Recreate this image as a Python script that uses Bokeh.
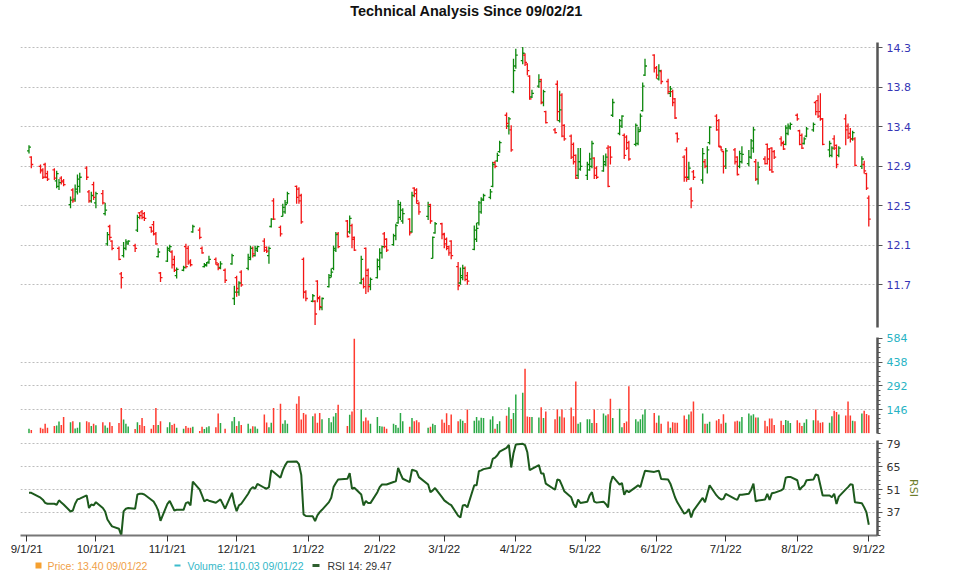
import numpy as np
import pandas as pd
from bokeh.plotting import figure
from bokeh.layouts import column
from bokeh.models import Range1d, FixedTicker, ColumnDataSource, CustomJSTickFormatter
from bokeh.core.properties import value
from bokeh.embed import file_html
from bokeh.resources import INLINE

title_text = "Technical Analysis Since 09/02/21"

first_day = "2021-09-02"
last_day = "2022-09-01"
holidays = ["2021-09-06", "2021-11-25", "2021-12-24", "2022-01-17", "2022-02-21",
            "2022-04-15", "2022-05-30", "2022-06-20", "2022-07-04"]

month_ticks = ["2021-09-01", "2021-10-01", "2021-11-01", "2021-12-01", "2022-01-01",
               "2022-02-01", "2022-03-01", "2022-04-01", "2022-05-01", "2022-06-01",
               "2022-07-01", "2022-08-01", "2022-09-01"]
month_labels = ["9/1/21", "10/1/21", "11/1/21", "12/1/21", "1/1/22", "2/1/22", "3/1/22",
                "4/1/22", "5/1/22", "6/1/22", "7/1/22", "8/1/22", "9/1/22"]

price_ticks = [11.7, 12.1333, 12.5667, 13.0, 13.4333, 13.8667, 14.3]
price_labels = ["11.7", "12.1", "12.5", "12.9", "13.4", "13.8", "14.3"]
volume_ticks = [146, 292, 438, 584]
volume_labels = ["146", "292", "438", "584"]
rsi_ticks = [37, 51, 65, 79]
rsi_labels = ["37", "51", "65", "79"]

legend_texts = ["Price: 13.40  09/01/22", "Volume: 110.03  09/01/22", "RSI 14: 29.47"]

opens = [
    # Sep 2021
    13.17, 13.10, 13.00, 12.96, 13.02, 12.92, 12.96, 12.84, 12.78, 12.87, 12.84, 12.58, 12.74, 12.64, 12.72, 12.78, 12.98, 12.72, 12.62, 12.80,
    # Oct
    12.60, 12.70, 12.48, 12.15, 12.34, 12.18, 12.10, 11.82, 12.02, 12.10, 12.15, 12.13, 12.30, 12.49, 12.50, 12.48, 12.33, 12.36, 12.26, 12.01, 11.83,
    # Nov
    11.96, 12.08, 12.06, 11.98, 11.80, 11.86, 12.12, 12.10, 11.96, 12.28, 12.30, 12.10, 11.90, 11.91, 11.95, 11.98, 11.92, 11.89, 11.86, 11.93, 11.55,
    # Dec
    11.78, 11.62, 11.84, 11.88, 11.98, 12.10, 12.02, 12.08, 12.18, 12.11, 12.02, 12.34, 12.62, 12.33, 12.45, 12.50, 12.60, 12.78, 12.75, 12.68, 11.98, 11.62,
    # Jan 2022
    11.52, 11.52, 11.74, 11.56, 11.45, 11.68, 11.80, 11.88, 12.08, 12.26, 12.40, 12.28, 12.35, 12.22, 11.72, 11.76, 12.10, 11.86, 11.70, 11.78,
    # Feb
    11.90, 12.05, 12.26, 12.20, 12.14, 12.24, 12.38, 12.44, 12.40, 12.42, 12.28, 12.76, 12.74, 12.59, 12.45, 12.58, 11.99, 12.27, 12.37,
    # Mar
    12.26, 12.20, 12.12, 12.18, 11.90, 11.72, 11.78, 11.88, 11.80, 12.09, 12.20, 12.38, 12.50, 12.63, 12.66, 12.78, 13.04, 13.06, 13.16, 13.56, 13.44, 13.40, 13.82,
    # Apr
    14.10, 14.16, 14.22, 14.12, 13.99, 13.76, 13.88, 13.95, 13.70, 13.60, 13.40, 13.90, 13.50, 13.78, 13.45, 13.33, 13.24, 13.12, 12.90, 12.97,
    # May
    12.90, 12.96, 13.00, 13.09, 12.98, 12.95, 13.02, 13.20, 13.21, 13.56, 13.36, 13.44, 13.34, 13.32, 13.26, 13.24, 13.25, 13.40, 13.61, 14.00, 14.22,
    # Jun
    14.08, 13.96, 14.04, 13.93, 13.80, 13.82, 13.74, 13.36, 13.10, 13.18, 12.88, 12.75, 12.94, 12.85, 13.05, 13.00, 13.26, 13.55, 13.50, 13.21, 13.16,
    # Jul
    13.00, 13.18, 13.10, 13.00, 13.05, 13.03, 13.10, 13.20, 13.05, 12.86, 13.08, 13.24, 13.19, 13.20, 13.16, 13.30, 13.26, 13.24, 13.36, 13.42,
    # Aug
    13.56, 13.39, 13.34, 13.25, 13.33, 13.40, 13.70, 13.72, 13.60, 13.52, 13.18, 13.12, 13.30, 13.23, 13.12, 13.52, 13.44, 13.36, 13.30, 13.30, 13.00, 13.02, 12.92,
    # Sep 2022
    12.65,
]

highs = [
    13.23, 13.11, 13.02, 12.98, 13.04, 12.95, 12.98, 12.95, 12.86, 12.89, 12.86, 12.67, 12.76, 12.80, 12.91, 12.93, 13.00, 12.74, 12.72, 12.83,
    12.72, 12.74, 12.60, 12.28, 12.36, 12.19, 12.12, 11.84, 12.17, 12.20, 12.19, 12.15, 12.47, 12.50, 12.52, 12.50, 12.34, 12.40, 12.28, 12.10, 11.84,
    12.12, 12.14, 12.08, 12.02, 11.89, 11.91, 12.15, 12.13, 11.98, 12.36, 12.33, 12.12, 11.94, 11.95, 12.02, 12.00, 11.94, 11.96, 11.88, 12.04, 11.69,
    11.80, 11.74, 11.86, 12.04, 12.13, 12.12, 12.13, 12.13, 12.21, 12.12, 12.12, 12.43, 12.65, 12.35, 12.59, 12.63, 12.72, 12.79, 12.77, 12.70, 12.00, 11.64,
    11.60, 11.53, 11.75, 11.58, 11.56, 11.82, 11.88, 12.13, 12.28, 12.28, 12.41, 12.46, 12.37, 12.23, 12.02, 11.78, 12.11, 11.88, 11.78, 11.99,
    12.10, 12.13, 12.28, 12.21, 12.26, 12.37, 12.63, 12.61, 12.54, 12.43, 12.72, 12.77, 12.76, 12.61, 12.61, 12.59, 12.23, 12.39, 12.38,
    12.27, 12.22, 12.13, 12.19, 11.95, 11.89, 11.92, 11.90, 11.84, 12.35, 12.38, 12.62, 12.66, 12.70, 12.75, 13.05, 13.06, 13.15, 13.28, 13.59, 13.54, 13.45, 14.18,
    14.29, 14.31, 14.24, 14.13, 14.00, 13.84, 14.01, 13.96, 13.84, 13.61, 13.42, 13.94, 13.83, 13.80, 13.46, 13.35, 13.26, 13.13, 13.20, 13.20,
    13.05, 13.15, 13.28, 13.10, 13.00, 13.12, 13.14, 13.23, 13.22, 13.74, 13.52, 13.56, 13.36, 13.34, 13.28, 13.47, 13.43, 13.58, 13.92, 14.18, 14.23,
    14.10, 14.12, 14.06, 13.96, 13.88, 13.84, 13.75, 13.37, 13.12, 13.21, 13.05, 12.77, 12.96, 13.20, 13.08, 13.22, 13.44, 13.57, 13.52, 13.22, 13.17,
    13.20, 13.20, 13.11, 13.17, 13.22, 13.18, 13.30, 13.43, 13.08, 13.05, 13.11, 13.25, 13.20, 13.21, 13.18, 13.33, 13.28, 13.45, 13.47, 13.48,
    13.58, 13.40, 13.36, 13.32, 13.43, 13.48, 13.72, 13.78, 13.80, 13.53, 13.28, 13.22, 13.34, 13.24, 13.22, 13.57, 13.47, 13.42, 13.39, 13.32, 13.11, 13.06, 12.93,
    12.68,
]

lows = [
    13.14, 12.98, 12.92, 12.86, 12.87, 12.84, 12.85, 12.76, 12.74, 12.80, 12.78, 12.54, 12.60, 12.61, 12.69, 12.71, 12.85, 12.60, 12.60, 12.63,
    12.54, 12.58, 12.46, 12.13, 12.19, 12.08, 11.97, 11.66, 12.00, 12.08, 12.14, 12.06, 12.28, 12.42, 12.42, 12.40, 12.27, 12.24, 12.14, 12.00, 11.73,
    11.95, 12.06, 11.88, 11.84, 11.77, 11.85, 11.88, 11.92, 11.90, 12.27, 12.20, 12.04, 11.89, 11.90, 11.93, 11.92, 11.86, 11.87, 11.72, 11.92, 11.48,
    11.57, 11.58, 11.68, 11.86, 11.97, 12.00, 12.01, 12.06, 12.06, 12.05, 11.93, 12.33, 12.41, 12.23, 12.45, 12.48, 12.59, 12.59, 12.59, 12.37, 11.55, 11.52,
    11.51, 11.26, 11.51, 11.42, 11.42, 11.67, 11.78, 11.86, 12.06, 12.10, 12.22, 12.26, 12.10, 12.07, 11.71, 11.66, 11.60, 11.62, 11.64, 11.77,
    11.86, 11.99, 12.10, 12.06, 12.13, 12.19, 12.37, 12.41, 12.37, 12.24, 12.27, 12.66, 12.59, 12.47, 12.41, 12.37, 11.99, 12.26, 12.20,
    12.10, 12.08, 12.02, 11.98, 11.64, 11.70, 11.75, 11.74, 11.70, 12.08, 12.17, 12.35, 12.48, 12.62, 12.64, 12.77, 12.98, 13.05, 13.15, 13.41, 13.35, 13.16, 13.80,
    14.07, 14.12, 14.10, 14.00, 13.73, 13.75, 13.86, 13.68, 13.66, 13.47, 13.36, 13.50, 13.48, 13.32, 13.28, 13.08, 13.02, 12.86, 12.86, 12.95,
    12.85, 12.95, 12.98, 12.86, 12.86, 12.94, 13.00, 12.77, 13.02, 13.54, 13.34, 13.42, 13.08, 13.18, 13.06, 13.22, 13.23, 13.38, 13.60, 13.99, 14.03,
    13.96, 13.94, 13.90, 13.79, 13.76, 13.66, 13.52, 13.26, 12.83, 12.83, 12.85, 12.54, 12.85, 12.81, 12.98, 12.92, 13.24, 13.39, 13.21, 13.17, 12.92,
    12.97, 13.02, 12.90, 12.98, 13.03, 13.00, 13.08, 13.15, 12.84, 12.80, 13.02, 13.02, 12.95, 12.93, 13.08, 13.22, 13.18, 13.23, 13.34, 13.40,
    13.50, 13.23, 13.19, 13.24, 13.32, 13.38, 13.56, 13.53, 13.50, 13.23, 13.10, 13.10, 13.18, 12.98, 13.10, 13.23, 13.30, 13.26, 13.28, 13.00, 12.97, 12.92, 12.74,
    12.34,
]

closes = [
    13.21, 13.02, 12.95, 12.88, 12.88, 12.86, 12.87, 12.92, 12.82, 12.83, 12.80, 12.63, 12.62, 12.75, 12.86, 12.88, 12.88, 12.62, 12.68, 12.66,
    12.70, 12.60, 12.52, 12.25, 12.22, 12.10, 11.98, 11.78, 12.10, 12.17, 12.18, 12.10, 12.44, 12.46, 12.44, 12.43, 12.29, 12.26, 12.15, 12.06, 11.78,
    12.10, 12.12, 11.92, 11.86, 11.87, 11.89, 11.90, 11.94, 11.92, 12.34, 12.22, 12.05, 11.92, 11.94, 11.98, 11.94, 11.88, 11.93, 11.75, 12.02, 11.62,
    11.66, 11.72, 11.70, 12.00, 12.10, 12.04, 12.10, 12.12, 12.08, 12.07, 12.10, 12.42, 12.42, 12.26, 12.55, 12.58, 12.70, 12.66, 12.62, 12.39, 11.62, 11.55,
    11.58, 11.38, 11.55, 11.46, 11.55, 11.78, 11.84, 12.10, 12.25, 12.12, 12.23, 12.43, 12.20, 12.08, 11.98, 11.68, 11.80, 11.68, 11.76, 11.97,
    12.05, 12.12, 12.12, 12.08, 12.24, 12.35, 12.58, 12.52, 12.48, 12.27, 12.68, 12.70, 12.62, 12.50, 12.56, 12.40, 12.22, 12.37, 12.25,
    12.15, 12.10, 12.05, 12.02, 11.69, 11.80, 11.88, 11.76, 11.74, 12.30, 12.32, 12.60, 12.64, 12.68, 12.72, 13.02, 13.00, 13.12, 13.26, 13.47, 13.52, 13.18, 14.05,
    14.22, 14.24, 14.14, 14.05, 13.74, 13.80, 13.93, 13.70, 13.82, 13.48, 13.37, 13.60, 13.62, 13.33, 13.30, 13.10, 13.05, 12.87, 13.05, 13.00,
    13.02, 13.08, 13.25, 12.90, 12.88, 13.05, 13.10, 12.78, 13.10, 13.70, 13.50, 13.55, 13.12, 13.20, 13.08, 13.45, 13.38, 13.55, 13.88, 14.10, 14.08,
    14.00, 14.05, 13.93, 13.82, 13.85, 13.70, 13.53, 13.30, 12.88, 12.86, 12.98, 12.62, 12.88, 13.14, 13.00, 13.18, 13.43, 13.40, 13.22, 13.18, 13.00,
    13.17, 13.05, 12.91, 13.14, 13.13, 13.10, 13.28, 13.40, 12.86, 12.99, 13.03, 13.08, 12.96, 12.94, 13.10, 13.25, 13.19, 13.42, 13.44, 13.46,
    13.52, 13.24, 13.20, 13.30, 13.41, 13.46, 13.60, 13.55, 13.52, 13.24, 13.25, 13.20, 13.20, 13.02, 13.20, 13.40, 13.32, 13.30, 13.37, 13.01, 13.08, 12.95, 12.76,
    12.42,
]

volumes = [
    27, 20, 33, 27, 58, 33, 45, 47, 72, 51, 99, 68, 74, 29, 33, 68, 74, 68, 45, 58,
    49, 68, 47, 33, 68, 45, 62, 156, 84, 58, 41, 25, 68, 51, 93, 45, 27, 51, 156, 51, 74,
    37, 68, 51, 58, 33, 27, 45, 33, 33, 39, 14, 39, 25, 37, 43, 37, 121, 62, 27, 74, 99,
    45, 74, 51, 58, 27, 43, 41, 27, 115, 66, 37, 64, 156, 181, 58, 80, 58, 181, 228, 84, 125, 115,
    105, 121, 64, 125, 86, 93, 68, 103, 125, 175, 45, 113, 134, 582, 146, 74, 97, 78, 58, 99,
    45, 41, 39, 27, 58, 51, 33, 125, 74, 39, 93, 74, 80, 68, 33, 39, 58, 51, 84,
    64, 123, 51, 115, 74, 86, 76, 62, 146, 76, 99, 78, 95, 93, 84, 105, 27, 56, 74, 107, 160, 88, 125,
    238, 249, 397, 103, 99, 99, 97, 160, 93, 134, 86, 146, 103, 146, 97, 158, 105, 319, 58, 68,
    86, 86, 62, 146, 62, 121, 109, 117, 212, 93, 150, 37, 62, 72, 290, 86, 72, 86, 115, 146, 125,
    64, 109, 58, 72, 33, 68, 64, 64, 109, 86, 115, 134, 195, 121, 58, 58, 70, 78, 88, 58, 117,
    64, 72, 76, 72, 99, 121, 109, 117, 97, 97, 76, 43, 90, 90, 51, 76, 51, 82, 76, 62,
    80, 64, 45, 64, 86, 80, 146, 78, 64, 68, 64, 105, 138, 130, 115, 109, 195, 109, 76, 74, 121, 138, 119,
    110.03,
]

rsi14 = [
    49.0, 49.0, 46.0, 44.8, 42.9, 42.3, 42.3, 41.7, 44.4, 43.1, 41.9, 37.6, 38.2, 42.3, 45.0, 45.4, 47.4, 39.7, 41.9, 41.3,
    43.3, 39.7, 37.6, 32.7, 30.5, 28.5, 27.0, 23.0, 37.6, 39.3, 39.7, 39.3, 48.0, 48.4, 48.4, 48.0, 44.8, 43.7, 41.3, 38.2, 31.9,
    42.3, 44.0, 41.1, 38.2, 38.6, 38.6, 42.7, 43.3, 41.3, 55.8, 50.9, 47.4, 43.7, 44.8, 44.2, 42.9, 44.0, 45.0, 39.3, 49.0, 42.3,
    37.8, 41.3, 42.3, 48.4, 51.1, 52.5, 51.5, 54.5, 52.1, 51.5, 52.5, 62.7, 61.7, 58.2, 62.7, 65.8, 68.0, 68.2, 66.5, 60.0, 35.8, 34.8,
    34.6, 31.7, 35.2, 37.2, 38.6, 43.3, 46.0, 52.5, 55.0, 57.2, 57.6, 61.1, 51.5, 52.1, 48.0, 41.3, 44.0, 42.7, 42.7, 49.4,
    52.5, 54.1, 54.1, 54.1, 55.6, 56.0, 64.3, 60.7, 57.6, 55.6, 63.1, 62.7, 62.1, 58.6, 54.1, 49.4, 50.5, 51.9, 46.4,
    44.4, 43.3, 42.3, 41.5, 35.0, 33.9, 41.2, 41.6, 40.1, 53.6, 53.6, 62.2, 62.7, 63.5, 64.3, 69.7, 70.5, 72.0, 74.2, 76.5, 78.3, 64.5, 73.2,
    78.6, 79.0, 78.2, 73.8, 62.9, 63.7, 66.0, 60.8, 60.8, 54.6, 50.9, 57.1, 56.7, 53.6, 50.0, 46.3, 42.2, 40.1, 44.9, 42.8,
    43.6, 47.4, 49.4, 43.6, 43.0, 43.6, 42.2, 40.1, 54.6, 59.1, 54.0, 55.0, 47.8, 50.5, 49.4, 52.5, 53.6, 52.5, 57.7, 62.5, 61.8,
    62.2, 62.5, 57.5, 57.1, 54.6, 50.5, 46.3, 43.2, 36.2, 37.0, 39.1, 33.9, 38.1, 45.9, 43.2, 48.4, 53.6, 47.4, 45.9, 44.9, 45.3,
    48.4, 45.3, 44.7, 47.8, 47.8, 48.4, 50.9, 54.6, 43.8, 44.3, 44.9, 48.4, 44.7, 48.8, 49.0, 50.5, 51.5, 58.3, 58.7, 58.7,
    56.7, 50.9, 52.5, 53.6, 56.7, 57.1, 60.2, 59.8, 53.6, 47.4, 47.4, 46.3, 48.4, 42.2, 46.7, 51.1, 52.5, 54.2, 54.0, 43.2, 42.6, 40.1, 37.0,
    29.47,
]

# ---------------------------------------------------------------------------
dates = pd.bdate_range(first_day, last_day)
dates = dates[~dates.isin(pd.to_datetime(holidays))]
n = len(dates)
lens = [len(opens), len(highs), len(lows), len(closes), len(volumes), len(rsi14)]
assert all(L == n for L in lens), (n, lens)

DAY = 86400000.0
epoch = pd.Timestamp("1970-01-01")
xs = ((dates - epoch) / pd.Timedelta(milliseconds=1)).to_numpy().astype(float)
mt = ((pd.to_datetime(month_ticks) - epoch) / pd.Timedelta(milliseconds=1)).to_numpy().astype(float)
month_ms = [float(v) for v in mt]

x0 = xs[0]
x_range = Range1d(x0 - 3.684 * DAY, x0 + 367.77 * DAY)

up = np.array(closes) >= np.array(opens)
price_col = np.where(up, "#0c870c", "#f31515")
vol_col = np.where(up, "#2aa845", "#ff3b2f")
tw = 0.85 * DAY

src = ColumnDataSource(dict(x=xs, xl=xs - tw, xr=xs + tw, o=opens, h=highs, l=lows,
                            c=closes, v=volumes, r=rsi14, pc=price_col, vc=vol_col))

FONT = "Liberation Sans"
AXFONT = "DejaVu Sans"
FW = 857
BL, BR = 20, 62


def lookup_formatter(ticks, labels):
    return CustomJSTickFormatter(args=dict(tv=list(ticks), tl=list(labels)), code="""
        let b = 0;
        for (let i = 0; i < tv.length; i++) {
            if (Math.abs(tv[i] - tick) < Math.abs(tv[b] - tick)) { b = i; }
        }
        return tl[b];
    """)


def style_right_axis(ax, ticks, labels, minor, color):
    ax.ticker = FixedTicker(ticks=ticks, minor_ticks=minor)
    ax.formatter = lookup_formatter(ticks, labels)
    ax.axis_line_color = "#555555"
    ax.axis_line_width = 2.5
    ax.major_tick_out = 5
    ax.major_tick_in = 0
    ax.major_tick_line_color = "#555555"
    ax.minor_tick_out = 3
    ax.minor_tick_in = 0
    ax.minor_tick_line_color = "#555555" if minor else None
    ax.major_label_text_color = color
    ax.major_label_text_font = AXFONT
    ax.major_label_text_font_size = "11px"
    ax.major_label_standoff = 4


def style_grid(p, ticks):
    p.xgrid.visible = False
    p.ygrid.ticker = FixedTicker(ticks=ticks)
    p.ygrid.grid_line_color = "#bdbdbd"
    p.ygrid.grid_line_dash = "2 2"
    p.ygrid.grid_line_width = 1


def strip(height):
    """A blank strip whose x/y ranges are page pixels (y measured from its bottom)."""
    p = figure(frame_width=FW, frame_height=height, x_range=Range1d(BL, BL + FW),
               y_range=Range1d(0, height), x_axis_location=None, y_axis_location=None,
               toolbar_location=None, output_backend="svg", min_border_left=BL,
               min_border_right=BR, min_border_top=0, min_border_bottom=0,
               outline_line_color=None)
    p.xgrid.visible = False
    p.ygrid.visible = False
    return p


common = dict(frame_width=FW, x_range=x_range, toolbar_location=None, output_backend="svg",
              min_border_left=BL, min_border_right=BR, outline_line_color=None,
              background_fill_color="white", border_fill_color="white")

# ---- title strip ----
p0 = strip(42)
p0.text(x=[466], y=[32], text=[title_text], text_color="#111111", text_font=value(FONT),
        text_font_size="14.5px", text_font_style="bold", text_align="center",
        text_baseline="middle")

# ---- price panel ----
p1 = figure(frame_height=285, y_range=Range1d(11.232, 14.358), x_axis_location=None,
            y_axis_location="right", min_border_top=0, min_border_bottom=5, **common)
style_right_axis(p1.yaxis[0], price_ticks, price_labels, [], "#3535b5")
style_grid(p1, price_ticks)
p1.segment(x0="x", y0="l", x1="x", y1="h", line_color="pc", line_width=1.3, source=src)
p1.segment(x0="xl", y0="o", x1="x", y1="o", line_color="pc", line_width=1.3, source=src)
p1.segment(x0="x", y0="c", x1="xr", y1="c", line_color="pc", line_width=1.3, source=src)

# ---- volume panel ----
p2 = figure(frame_height=96, y_range=Range1d(-2, 590), x_axis_location=None,
            y_axis_location="right", min_border_top=5, min_border_bottom=3, **common)
vol_minor = [29.2 * k for k in range(0, 21)]
style_right_axis(p2.yaxis[0], volume_ticks, volume_labels, vol_minor, "#27b3c4")
style_grid(p2, volume_ticks[:3])
p2.vbar(x="x", top="v", bottom=0, width=0.65 * DAY, fill_color="vc", line_color=None,
        source=src)

# ---- RSI panel ----
p3 = figure(frame_height=95, y_range=Range1d(22.9, 81.0), y_axis_location="right",
            min_border_top=4, min_border_bottom=20, **common)
rsi_minor = [79 - 2.8 * k for k in range(0, 21)]
style_right_axis(p3.yaxis[0], rsi_ticks, rsi_labels, rsi_minor, "#333333")
p3.yaxis[0].axis_label = "RSI"
p3.yaxis[0].axis_label_text_color = "#6d7d2c"
p3.yaxis[0].axis_label_text_font = AXFONT
p3.yaxis[0].axis_label_text_font_size = "11px"
p3.yaxis[0].axis_label_text_font_style = "normal"
p3.yaxis[0].axis_label_standoff = 4
style_grid(p3, rsi_ticks)
xa = p3.xaxis[0]
xa.ticker = FixedTicker(ticks=month_ms)
xa.formatter = lookup_formatter(month_ms, month_labels)
xa.axis_line_color = "#777777"
xa.axis_line_width = 2
xa.major_tick_out = 6
xa.major_tick_in = 0
xa.major_tick_line_color = "#333333"
xa.minor_tick_line_color = None
xa.major_label_text_font = FONT
xa.major_label_text_font_size = "11.5px"
xa.major_label_text_color = "#222222"
xa.major_label_standoff = 1
p3.line(x="x", y="r", line_color="#1d5a1d", line_width=2, source=src)

# ---- legend strip ----
p4 = strip(16)
p4.scatter(x=[38], y=[8], marker="square", size=6, color="#f5a030", line_color=None)
p4.segment(x0=[174], y0=[8], x1=[180], y1=[8], line_color="#3cbccc", line_width=2)
p4.segment(x0=[312], y0=[8], x1=[319], y1=[8], line_color="#2f5f2f", line_width=3)
p4.text(x=[47, 187, 327], y=[8, 8, 8], text=legend_texts,
        text_color=["#f0a048", "#34b8c8", "#333333"], text_font=value(FONT),
        text_font_size="10.5px", text_baseline="middle", text_align="left")

layout = column(p0, p1, p2, p3, p4, spacing=0)
open("out.html", "w").write(file_html(layout, INLINE, title="Technical Analysis"))
